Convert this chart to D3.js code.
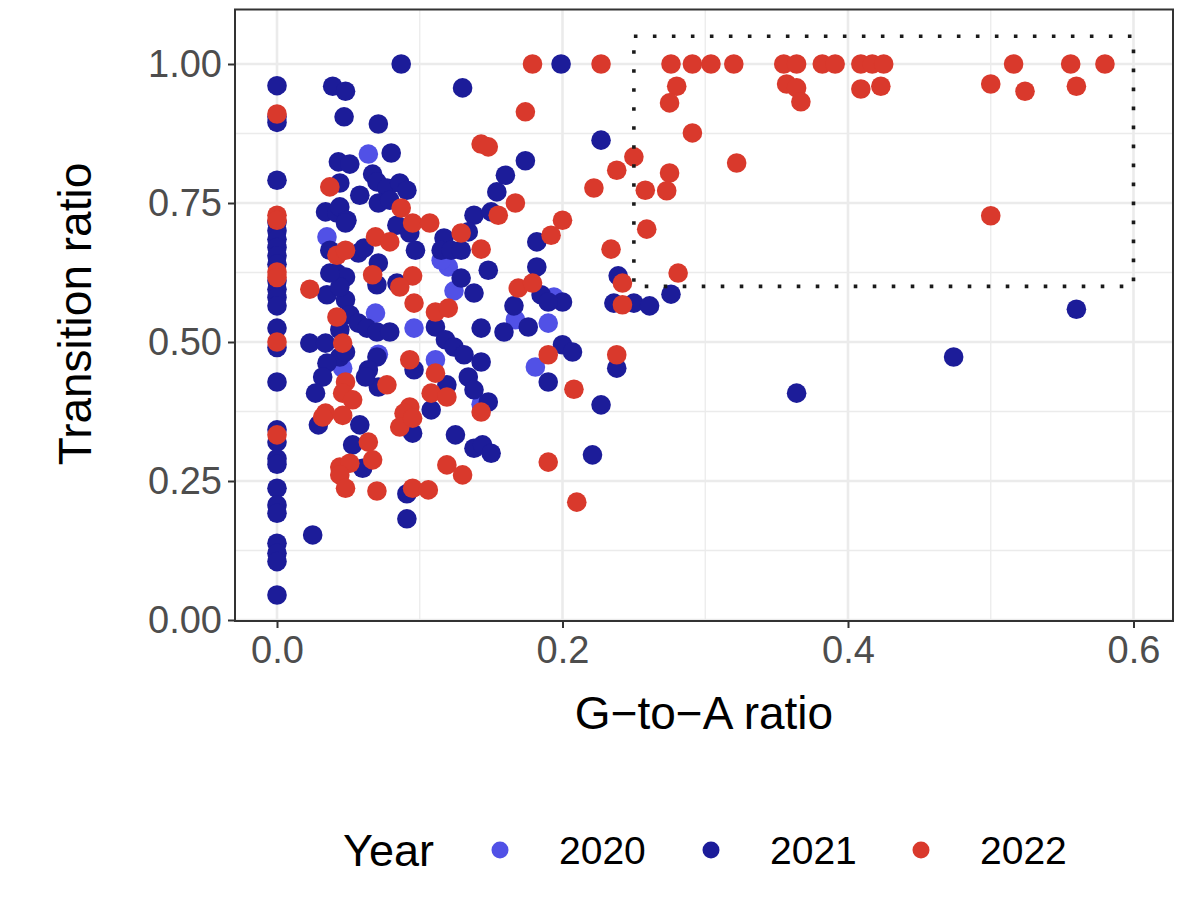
<!DOCTYPE html>
<html>
<head>
<meta charset="utf-8">
<script src="https://cdn.jsdelivr.net/npm/d3@7"></script>
<style>
  html, body { margin: 0; padding: 0; background: #fff; }
  svg { display: block; font-family: "Liberation Sans", Arial, Helvetica, sans-serif; }
</style>
</head>
<body>
<svg id="chart" width="1200" height="908"></svg>
<script>
// ---- data ----
const years = ["2020", "2021", "2022"];
const yearColors = ["#5151e6", "#1c1c99", "#d9392c"];

const xTicks = [0.0, 0.2, 0.4, 0.6];
const xTickLabels = ["0.0", "0.2", "0.4", "0.6"];
const yTicks = [0.00, 0.25, 0.50, 0.75, 1.00];
const yTickLabels = ["0.00", "0.25", "0.50", "0.75", "1.00"];
const xMinor = [0.1, 0.3, 0.5];
const yMinor = [0.125, 0.375, 0.625, 0.875];

// highlighted region [x0, x1, y0, y1]
const boxX = [0.25, 0.6];
const boxY = [0.6, 1.05];

// [G-to-A ratio, Transition ratio]
const pts2020 = [
  [0.064,0.838],[0.035,0.689],[0.069,0.552],[0.096,0.525],[0.120,0.635],[0.124,0.592],
  [0.167,0.540],[0.194,0.581],[0.190,0.534],[0.111,0.468],[0.071,0.478],[0.046,0.453],
  [0.143,0.388],[0.181,0.455],[0.115,0.647]
];

const pts2021 = [
  [0,0.961],[0,0.905],[0,0.895],[0,0.791],[0,0.716],[0,0.700],[0,0.685],[0,0.670],[0,0.655],
  [0,0.640],[0,0.610],[0,0.595],[0,0.580],[0,0.565],[0,0.525],[0,0.490],[0,0.428],[0,0.342],
  [0,0.320],[0,0.290],[0,0.280],[0,0.237],[0,0.207],[0,0.192],[0,0.138],[0,0.120],[0,0.105],[0,0.045],
  [0.087,1.000],[0.199,1.000],[0.039,0.960],[0.048,0.951],[0.130,0.957],[0.047,0.905],[0.071,0.892],
  [0.080,0.840],[0.043,0.824],[0.051,0.820],[0.174,0.826],[0.160,0.800],[0.154,0.770],[0.067,0.802],
  [0.070,0.788],[0.077,0.777],[0.086,0.786],[0.091,0.773],[0.058,0.764],[0.044,0.786],[0.071,0.750],
  [0.079,0.755],[0.034,0.734],[0.042,0.732],[0.138,0.728],[0.150,0.734],[0.044,0.743],[0.049,0.719],
  [0.048,0.714],[0.037,0.665],[0.057,0.660],[0.061,0.669],[0.071,0.642],[0.042,0.624],[0.048,0.617],
  [0.070,0.603],[0.035,0.585],[0.048,0.576],[0.044,0.599],[0.037,0.624],[0.051,0.549],[0.057,0.534],
  [0.063,0.525],[0.070,0.518],[0.079,0.518],[0.084,0.710],[0.093,0.696],[0.097,0.665],[0.084,0.606],
  [0.111,0.527],[0.117,0.687],[0.115,0.665],[0.122,0.665],[0.129,0.665],[0.129,0.615],[0.138,0.588],
  [0.148,0.629],[0.134,0.698],[0.143,0.525],[0.159,0.518],[0.176,0.527],[0.166,0.565],[0.182,0.680],
  [0.182,0.635],[0.185,0.585],[0.200,0.572],[0.118,0.504],[0.124,0.491],[0.131,0.477],[0.143,0.464],
  [0.096,0.450],[0.070,0.473],[0.064,0.450],[0.071,0.419],[0.062,0.437],[0.044,0.473],[0.035,0.462],
  [0.032,0.437],[0.027,0.408],[0.044,0.522],[0.023,0.498],[0.034,0.498],[0.048,0.482],[0.108,0.378],
  [0.134,0.437],[0.138,0.414],[0.148,0.392],[0.119,0.423],[0.190,0.428],[0.200,0.495],[0.207,0.482],
  [0.029,0.351],[0.058,0.351],[0.053,0.315],[0.060,0.273],[0.095,0.336],[0.091,0.227],[0.091,0.182],
  [0.125,0.333],[0.138,0.309],[0.144,0.315],[0.150,0.300],[0.025,0.153],[0.221,0.297],[0.227,0.387],
  [0.238,0.453],[0.227,0.863],[0.239,0.619],[0.236,0.570],[0.250,0.570],[0.261,0.565],[0.276,0.586],
  [0.560,0.559],[0.364,0.408],[0.474,0.473],[0.190,0.572]
];

const pts2022 = [
  [0,0.910],[0,0.728],[0,0.719],[0,0.626],[0,0.616],[0,0.500],[0,0.333],
  [0.179,1.000],[0.227,1.000],[0.276,1.000],[0.291,1.000],[0.304,1.000],[0.320,1.000],[0.355,1.000],
  [0.364,1.000],[0.382,1.000],[0.391,1.000],[0.409,1.000],[0.417,1.000],[0.425,1.000],[0.516,1.000],
  [0.556,1.000],[0.580,1.000],[0.280,0.960],[0.275,0.930],[0.357,0.964],[0.364,0.957],[0.367,0.932],
  [0.409,0.955],[0.423,0.960],[0.500,0.964],[0.524,0.951],[0.560,0.960],[0.500,0.727],[0.291,0.876],
  [0.322,0.822],[0.250,0.833],[0.238,0.809],[0.222,0.777],[0.258,0.773],[0.275,0.804],[0.273,0.772],
  [0.259,0.703],[0.234,0.667],[0.281,0.624],[0.242,0.606],[0.242,0.567],[0.174,0.914],[0.143,0.856],
  [0.148,0.851],[0.167,0.750],[0.155,0.728],[0.143,0.667],[0.200,0.719],[0.192,0.692],[0.169,0.597],
  [0.179,0.606],[0.129,0.696],[0.037,0.779],[0.087,0.741],[0.095,0.714],[0.107,0.714],[0.069,0.689],
  [0.079,0.680],[0.042,0.656],[0.048,0.665],[0.067,0.621],[0.023,0.595],[0.095,0.619],[0.086,0.599],
  [0.096,0.570],[0.111,0.554],[0.120,0.561],[0.042,0.545],[0.046,0.498],[0.093,0.468],[0.111,0.444],
  [0.077,0.423],[0.048,0.428],[0.046,0.408],[0.053,0.396],[0.108,0.408],[0.119,0.401],[0.143,0.374],
  [0.093,0.383],[0.089,0.372],[0.034,0.372],[0.046,0.368],[0.190,0.477],[0.032,0.365],[0.064,0.320],
  [0.067,0.288],[0.044,0.275],[0.051,0.282],[0.044,0.261],[0.048,0.237],[0.070,0.232],[0.086,0.347],
  [0.095,0.363],[0.095,0.237],[0.106,0.234],[0.119,0.279],[0.130,0.261],[0.190,0.284],[0.210,0.212],
  [0.208,0.415],[0.238,0.477]
];

const seriesPoints = [pts2020, pts2021, pts2022];

// ---- layout ----
const svg = d3.select("#chart");
const panel = { left: 235, right: 1173, top: 9.5, bottom: 621 };

const x = d3.scaleLinear().domain([0, 0.6]).range([277, 1133.5]);
const y = d3.scaleLinear().domain([0, 1]).range([620, 64]);

svg.append("rect")
  .attr("x", panel.left).attr("y", panel.top)
  .attr("width", panel.right - panel.left).attr("height", panel.bottom - panel.top)
  .attr("fill", "#fff");

const grid = svg.append("g");
grid.selectAll(".xminor").data(xMinor).join("line")
  .attr("x1", d => x(d)).attr("x2", d => x(d))
  .attr("y1", panel.top).attr("y2", panel.bottom)
  .attr("stroke", "#ebebeb").attr("stroke-width", 1.3);
grid.selectAll(".yminor").data(yMinor).join("line")
  .attr("y1", d => y(d)).attr("y2", d => y(d))
  .attr("x1", panel.left).attr("x2", panel.right)
  .attr("stroke", "#ebebeb").attr("stroke-width", 1.3);
grid.selectAll(".xmajor").data(xTicks).join("line")
  .attr("x1", d => x(d)).attr("x2", d => x(d))
  .attr("y1", panel.top).attr("y2", panel.bottom)
  .attr("stroke", "#ebebeb").attr("stroke-width", 2.6);
grid.selectAll(".ymajor").data(yTicks).join("line")
  .attr("y1", d => y(d)).attr("y2", d => y(d))
  .attr("x1", panel.left).attr("x2", panel.right)
  .attr("stroke", "#ebebeb").attr("stroke-width", 2.6);

const ptsG = svg.append("g");
seriesPoints.forEach((pts, i) => {
  ptsG.append("g").selectAll("circle").data(pts).join("circle")
    .attr("cx", d => x(d[0])).attr("cy", d => y(d[1]))
    .attr("r", 9.8)
    .attr("fill", yearColors[i]);
});

svg.append("rect")
  .attr("x", x(boxX[0])).attr("y", y(boxY[1]))
  .attr("width", x(boxX[1]) - x(boxX[0]))
  .attr("height", y(boxY[0]) - y(boxY[1]))
  .attr("fill", "none").attr("stroke", "#1a1a1a")
  .attr("stroke-width", 3.6)
  .attr("stroke-dasharray", "3.6,15.4");

svg.append("rect")
  .attr("x", panel.left).attr("y", panel.top)
  .attr("width", panel.right - panel.left).attr("height", panel.bottom - panel.top)
  .attr("fill", "none").attr("stroke", "#333").attr("stroke-width", 2);

const xAxis = d3.axisBottom(x).tickValues(xTicks)
  .tickFormat((d, i) => xTickLabels[i]).tickSize(7).tickPadding(8);
const gx = svg.append("g").attr("transform", `translate(0,${panel.bottom})`).call(xAxis);
gx.select(".domain").remove();
gx.selectAll(".tick line").attr("stroke", "#333").attr("stroke-width", 2);
gx.selectAll(".tick text").attr("fill", "#4d4d4d").attr("font-size", 38)
  .attr("font-family", "Liberation Sans, Arial, sans-serif");

const yAxis = d3.axisLeft(y).tickValues(yTicks)
  .tickFormat((d, i) => yTickLabels[i]).tickSize(7).tickPadding(6);
const gy = svg.append("g").attr("transform", `translate(${panel.left},0)`).call(yAxis);
gy.select(".domain").remove();
gy.selectAll(".tick line").attr("stroke", "#333").attr("stroke-width", 2);
gy.selectAll(".tick text").attr("fill", "#4d4d4d").attr("font-size", 38)
  .attr("font-family", "Liberation Sans, Arial, sans-serif");

svg.append("text")
  .attr("x", 704).attr("y", 729)
  .attr("text-anchor", "middle").attr("font-size", 46).attr("fill", "#000")
  .text("G\u2212to\u2212A ratio");

svg.append("text")
  .attr("transform", "translate(91,314) rotate(-90)")
  .attr("text-anchor", "middle").attr("font-size", 46).attr("fill", "#000")
  .text("Transition ratio");

const legend = svg.append("g");
legend.append("text").attr("x", 343).attr("y", 866)
  .attr("font-size", 45).attr("fill", "#000").text("Year");
const legX = [500, 711, 921];
years.forEach((yr, i) => {
  legend.append("circle").attr("cx", legX[i]).attr("cy", 850).attr("r", 8.5)
    .attr("fill", yearColors[i]);
  legend.append("text").attr("x", legX[i] + 59).attr("y", 864)
    .attr("font-size", 39).attr("fill", "#000").text(yr);
});
</script>
</body>
</html>
